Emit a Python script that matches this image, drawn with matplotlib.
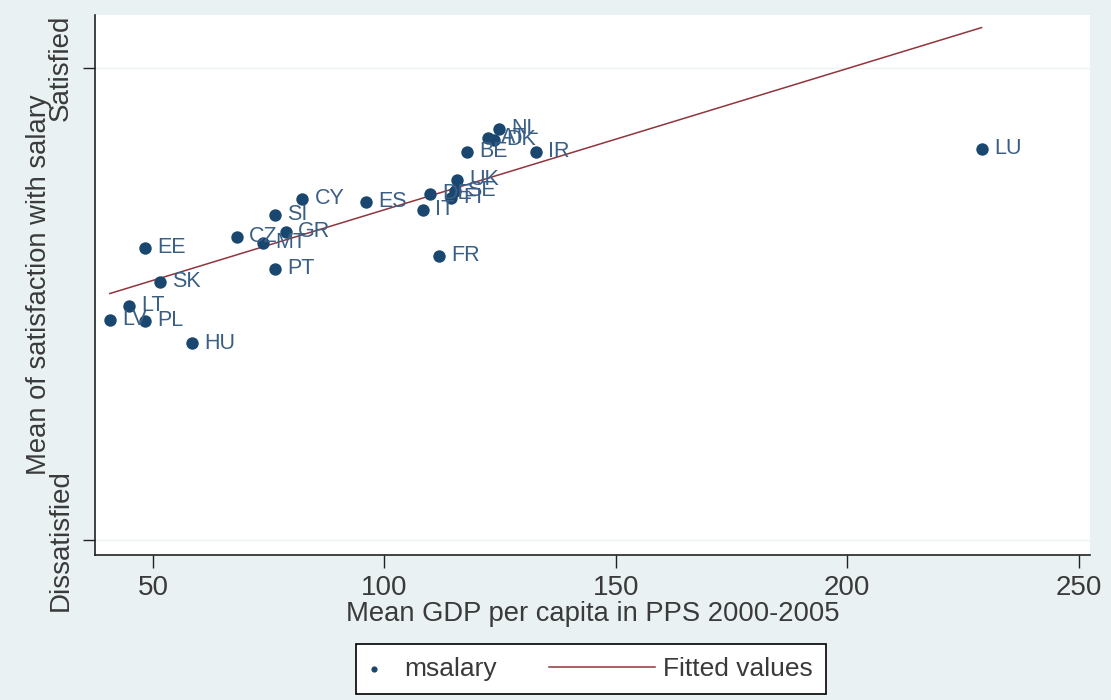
import matplotlib
matplotlib.use("Agg")
import matplotlib.pyplot as plt
from matplotlib.legend_handler import HandlerPathCollection, HandlerLine2D
import numpy as np

# country codes, mean GDP per capita (PPS 2000-2005), mean satisfaction with salary
countries = ["LU", "IR", "BE", "NL", "AT", "DK", "UK", "DE", "SE", "FI", "IT", "FR",
             "ES", "CY", "SI", "GR", "CZ", "MT", "PT", "EE", "SK", "LT", "LV", "PL", "HU"]
gdp = [229.0, 132.7, 117.8, 124.7, 122.4, 123.6, 115.7, 109.8, 115.2, 114.4, 108.3, 111.8,
       96.0, 82.2, 76.3, 78.7, 68.1, 73.8, 76.3, 48.3, 51.5, 44.8, 40.7, 48.3, 58.4]
msalary = [2.828, 2.822, 2.822, 2.871, 2.852, 2.847, 2.763, 2.733, 2.739, 2.725, 2.699, 2.602,
           2.716, 2.722, 2.689, 2.653, 2.642, 2.629, 2.574, 2.619, 2.547, 2.496, 2.466, 2.464, 2.417]

# fitted values line as shown (intercept, slope)
fit_coef = [2.400, 0.00299]

y_ticks = [2, 3]
y_ticklabels = ["Dissatisfied", "Satisfied"]
x_ticks = [50, 100, 150, 200, 250]

navy = "#1a476f"
maroon = "#90353b"
txt = "#3a3a3a"


# legend key tweaks: marker sits near the left of its key, line key is long
class LeftDot(HandlerPathCollection):
    def create_artists(self, legend, orig_handle, xdescent, ydescent, width, height,
                       fontsize, trans):
        return super().create_artists(legend, orig_handle, xdescent, ydescent, width * 0.3,
                                      height, fontsize, trans)


class LongLine(HandlerLine2D):
    def create_artists(self, legend, orig_handle, xdescent, ydescent, width, height,
                       fontsize, trans):
        extra = 3.0 * width
        return super().create_artists(legend, orig_handle, xdescent + extra, ydescent,
                                      width + extra, height, fontsize, trans)


plt.rcParams['font.family'] = ['Liberation Sans', 'DejaVu Sans']

fig = plt.figure(figsize=(11.11, 7), dpi=100, facecolor="#eaf1f3")
ax = fig.add_axes([0.0855, 0.207, 0.8955, 0.772])
ax.set_facecolor("white")

x = np.array(gdp)
y = np.array(msalary)
xs = np.array([x.min(), x.max()])

pts = ax.scatter(x, y, s=80, color=navy, zorder=3, label="msalary", linewidths=0)
fit, = ax.plot(xs, fit_coef[0] + fit_coef[1] * xs, color=maroon, lw=1.1, zorder=2,
               label="Fitted values")

for c, xi, yi in zip(countries, x, y):
    ax.annotate(c, (xi, yi), xytext=(9, 0), textcoords="offset points",
                va="center", ha="left", fontsize=15.5, color="#3b5f84", zorder=4)

ax.set_xlim(37.5, 252.4)
ax.set_ylim(1.968, 3.112)
ax.set_xticks(x_ticks)
ax.set_yticks(y_ticks)
ax.set_yticklabels(y_ticklabels, rotation=90, va="center")
ax.tick_params(axis="both", direction="out", length=9, width=1, colors="#222222",
               labelcolor=txt, labelsize=20)
ax.tick_params(axis="x", pad=5)
ax.tick_params(axis="y", pad=6)
ax.grid(axis="y", color="#eef2f3", lw=1)
ax.set_axisbelow(True)
for s in ["top", "right"]:
    ax.spines[s].set_visible(False)
for s in ["left", "bottom"]:
    ax.spines[s].set_color("#222222")
    ax.spines[s].set_linewidth(1.2)

ax.set_xlabel("Mean GDP per capita in PPS 2000-2005", fontsize=19.7, color=txt, labelpad=0)
ax.set_ylabel("Mean of satisfaction with salary", fontsize=19.7, color=txt, labelpad=-3)

leg = fig.legend([pts, fit], ["msalary", "Fitted values"], loc="lower center",
                 bbox_to_anchor=(0.532, 0.008), ncol=2, fontsize=19, frameon=True,
                 fancybox=False, edgecolor="black", facecolor="white", framealpha=1,
                 markerscale=0.5, handlelength=1, handletextpad=0.3, columnspacing=5.0,
                 borderpad=0.5, borderaxespad=0,
                 handler_map={pts: LeftDot(), fit: LongLine()})
leg.get_frame().set_linewidth(1.2)
for t in leg.get_texts():
    t.set_color(txt)

fig.savefig("out.png", dpi=100, facecolor=fig.get_facecolor())
